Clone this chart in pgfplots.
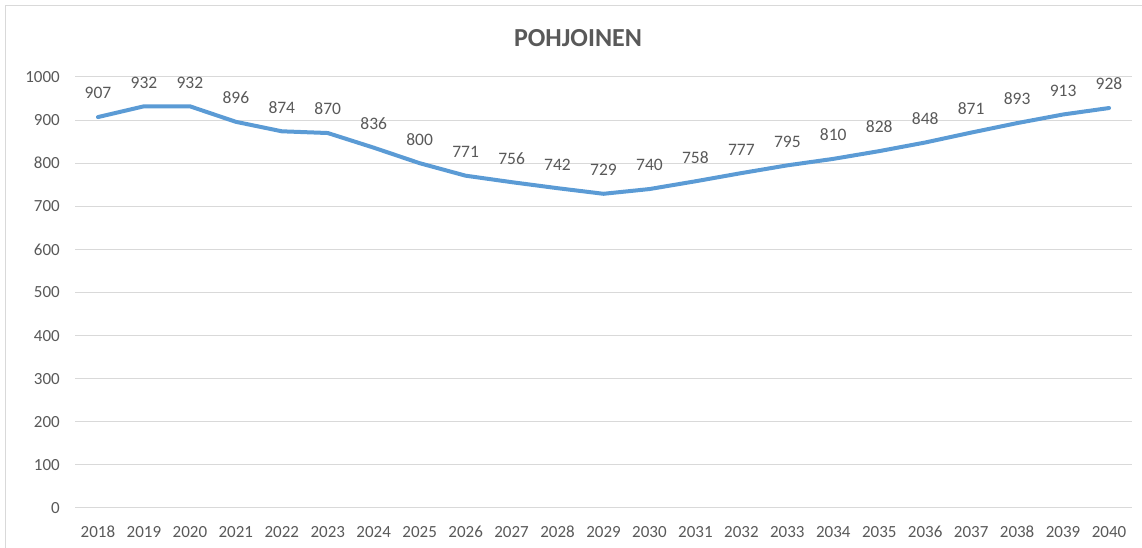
\documentclass[border=0pt]{standalone}
\usepackage{pgfplots}
\pgfplotsset{compat=1.18}
\usepackage{fontspec}
\setmainfont{Carlito}
\definecolor{txt}{HTML}{595959}
\definecolor{grd}{HTML}{D9D9D9}
\definecolor{ln}{HTML}{5B9BD5}
\begin{document}
\begin{tikzpicture}[x=1pt,y=1pt]
\useasboundingbox (0,0) rectangle (1142,548);
\draw[grd, line width=1pt] (5.5,0) -- (5.5,542.5) -- (1142,542.5);
\node[text=txt, font=\fontsize{26}{30}\selectfont\bfseries] at (578,510) {POHJOINEN};
\begin{axis}[
  at={(75pt,40pt)}, anchor=south west,
  scale only axis, width=1057pt, height=431pt,
  xmin=-0.5, xmax=22.5, ymin=0, ymax=1000,
  axis line style={draw=none},
  major tick length=0pt,
  xtick={0,...,22},
  xticklabels={2018,2019,2020,2021,2022,2023,2024,2025,2026,2027,2028,2029,2030,2031,2032,2033,2034,2035,2036,2037,2038,2039,2040},
  ytick={0,100,...,1000},
  ymajorgrids, grid style={grd, line width=1pt},
  /pgf/number format/assume math mode=true,
  /pgf/number format/1000 sep={},
  ticklabel style={text=txt, font=\fontsize{17}{20}\selectfont},
  yticklabel style={anchor=east, inner sep=0pt, xshift=-15pt},
  xticklabel style={anchor=north, inner sep=0pt, yshift=-18pt},
  clip=false,
  nodes near coords,
  nodes near coords style={text=txt, font=\fontsize{17.5}{20}\selectfont, anchor=south, inner sep=0pt, yshift=16pt},
]
\addplot[ln, line width=4pt, line join=round, line cap=round] coordinates {
(0,907) (1,932) (2,932) (3,896) (4,874) (5,870) (6,836) (7,800) (8,771) (9,756) (10,742) (11,729)
(12,740) (13,758) (14,777) (15,795) (16,810) (17,828) (18,848) (19,871) (20,893) (21,913) (22,928)};
\end{axis}
\end{tikzpicture}
\end{document}
